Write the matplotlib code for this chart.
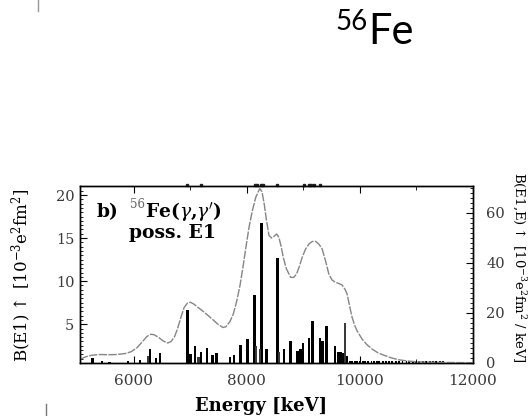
import matplotlib
matplotlib.use('Agg')
import matplotlib.pyplot as plt
from matplotlib.lines import Line2D
from matplotlib.ticker import MultipleLocator

W, H = 529, 416
plt.rcParams['font.family'] = ['DejaVu Serif']
plt.rcParams['mathtext.fontset'] = 'dejavuserif'

# --- data ---
bar_energy = [5264, 5435, 5570, 5894, 6106, 6283, 6395, 6460, 6954, 7001, 7084,
              7190, 7296, 7396, 7467, 7705, 7776, 7894, 8012, 8141, 8259, 8353,
              8541, 8659, 8777, 8894, 8953, 8995, 9101, 9160, 9296, 9337, 9414,
              9561, 9620, 9661, 9702, 9779]
bar_strength = [1.09, 0.73, 0.62, 0.70, 0.85, 2.17, 1.04, 1.68, 6.6, 1.58, 2.46,
                1.73, 2.26, 1.43, 1.68, 1.16, 1.43, 2.56, 3.34, 8.34, 16.8, 2.07,
                12.65, 2.07, 3.05, 1.93, 2.07, 2.85, 3.44, 5.4, 3.44, 3.05, 4.76,
                2.5, 1.82, 1.77, 1.68, 1.28]
grey_energy = [6247, 7143, 8170, 8230, 8575, 9743]
grey_strength = [1.28, 1.19, 2.44, 2.17, 1.73, 5.2]
small_energy = [9830, 9870, 9920, 9960, 10010, 10060, 10100, 10150, 10210, 10260,
                10300, 10350, 10420, 10470, 10520, 10580, 10640, 10700, 10760,
                10830, 10880, 10940, 11000, 11060, 11120, 11180, 11240, 11300,
                11360, 11420, 11480]
small_strength = [0.75] * len(small_energy)

curve_energy = [5045, 5150, 5250, 5400, 5550, 5700, 5850, 5950, 6050, 6150, 6230,
                6300, 6360, 6440, 6520, 6600, 6660, 6720, 6770, 6830, 6890, 6950,
                7000, 7060, 7150, 7280, 7400, 7500, 7580, 7630, 7700, 7760, 7820,
                7880, 7930, 7990, 8040, 8100, 8160, 8230, 8270, 8310, 8350, 8394,
                8440, 8490, 8530, 8570, 8610, 8650, 8700, 8777, 8830, 8880, 8930,
                8983, 9040, 9101, 9160, 9218, 9280, 9336, 9400, 9454, 9510, 9571,
                9630, 9689, 9740, 9778, 9820, 9866, 9910, 9954, 10042, 10130,
                10219, 10330, 10455, 10570, 10690, 10850, 11000, 11300, 11600, 12000]
curve_strength = [1.5, 2.5, 3.1, 3.4, 3.3, 3.4, 3.8, 4.5, 6.0, 8.5, 10.6,
                  11.5, 11.3, 10.2, 8.8, 8.0, 8.6, 10.5, 13.5, 18.0, 22.2, 24.0,
                  24.3, 23.6, 22.0, 19.7, 17.3, 15.3, 14.2, 14.5, 16.5, 19.5, 24.5,
                  31.0, 38.0, 47.0, 54.3, 61.0, 66.3, 69.8, 68.5, 63.5, 57.0, 51.0,
                  50.0, 50.8, 51.6, 50.2, 46.5, 42.0, 37.8, 34.3, 34.2, 35.5, 38.5,
                  42.3, 45.5, 47.6, 48.6, 48.7, 47.5, 45.6, 40.5, 35.6, 33.2, 32.3,
                  31.8, 31.2, 29.5, 27.6, 23.0, 18.3, 15.2, 12.9, 9.6, 7.3,
                  5.6, 4.0, 2.9, 2.0, 1.3, 0.8, 0.5, 0.3, 0.2, 0.1]
top_mark_energy = [6949, 7190, 8141, 8175, 8259, 8290, 8541, 9013, 9101, 9140, 9190, 9290]

x_ticks = [6000, 8000, 10000, 12000]
left_ticks = [5, 10, 15, 20]
right_ticks = [0, 20, 40, 60]

fig = plt.figure(figsize=(W / 100, H / 100), dpi=100)
ax = fig.add_axes([80 / W, 53 / H, 392.5 / W, 177 / H])
ax.bar(bar_energy, bar_strength, width=46, color='black', zorder=3)
ax.bar(grey_energy, grey_strength, width=40, color='#3a3a3a', zorder=3)
ax.bar(small_energy, small_strength, width=34, color='black', zorder=3)
ax.set_xlim(5045, 12000)
ax.set_ylim(0.5, 21.05)
ax.plot(top_mark_energy, [21.15] * len(top_mark_energy), ls='none', marker='s',
        ms=1.5, color='#222222', clip_on=False)

ax2 = ax.twinx()
ax2.plot(curve_energy, curve_strength, color='#858585', lw=1.0, ls=(0, (6, 1)))
ax2.set_ylim(0, 70.8)

for a in (ax, ax2):
    for s in a.spines.values():
        s.set_linewidth(1.0)

ax.set_xticks(x_ticks)
ax.xaxis.set_minor_locator(MultipleLocator(1000))
ax.set_yticks(left_ticks)
ax.yaxis.set_minor_locator(MultipleLocator(0.5))
ax2.set_yticks(right_ticks)
ax2.yaxis.set_minor_locator(MultipleLocator(2))

ax.tick_params(axis='x', which='both', direction='in', top=True, bottom=True,
               labelsize=11, labelcolor='#3a3a3a', pad=8)
ax.tick_params(axis='x', which='major', length=5)
ax.tick_params(axis='x', which='minor', length=3)
ax.tick_params(axis='y', which='both', direction='in', right=False,
               labelsize=10.5, labelcolor='#3a3a3a', pad=4)
ax.tick_params(axis='y', which='major', length=5)
ax.tick_params(axis='y', which='minor', length=2.5)
ax2.tick_params(axis='y', which='both', direction='in', labelsize=10.5,
                labelcolor='#3a3a3a', pad=10)
ax2.tick_params(axis='y', which='major', length=5)
ax2.tick_params(axis='y', which='minor', length=2.5)

# labels
fig.text(261 / W, 1 - 411 / H, 'Energy [keV]', ha='center', va='baseline',
         fontsize=13, fontweight='bold')
fig.text(22 / W, 1 - 275 / H, r'B(E1)$\uparrow$ [10$^{-3}$e$^2$fm$^2$]',
         rotation=90, ha='center', va='center', fontsize=12)
fig.text(519 / W, 1 - 172 / H, r'B(E1,E)$\uparrow$ [10$^{-3}$e$^2$fm$^2$ / keV]',
         rotation=-90, ha='center', va='top', fontsize=9.5)

fig.text(97 / W, 1 - 217 / H, 'b)', fontsize=13.5, fontweight='bold', va='baseline')
fig.text(130 / W, 1 - 208 / H, '56', fontsize=8.5, color='#666666', va='baseline')
fig.text(145 / W, 1 - 217 / H, r"Fe($\gamma$,$\gamma'$)", fontsize=13.5,
         fontweight='bold', va='baseline')
fig.text(129 / W, 1 - 238 / H, 'poss. E1', fontsize=13.5, fontweight='bold', va='baseline')

# slide title
fig.text(368 / W, 1 - 44 / H, 'Fe', fontsize=30, family='Lato', va='baseline', ha='left')
fig.text(335 / W, 1 - 30 / H, '56', fontsize=20, family='Lato', va='baseline', ha='left')

# slide artefacts
fig.add_artist(Line2D([38 / W, 38 / W], [1 - 0 / H, 1 - 11 / H], color='#999999', lw=1))
fig.add_artist(Line2D([46 / W, 46 / W], [1 - 404 / H, 1 - 416 / H], color='#777777', lw=1))

fig.savefig('out.png', dpi=100)
